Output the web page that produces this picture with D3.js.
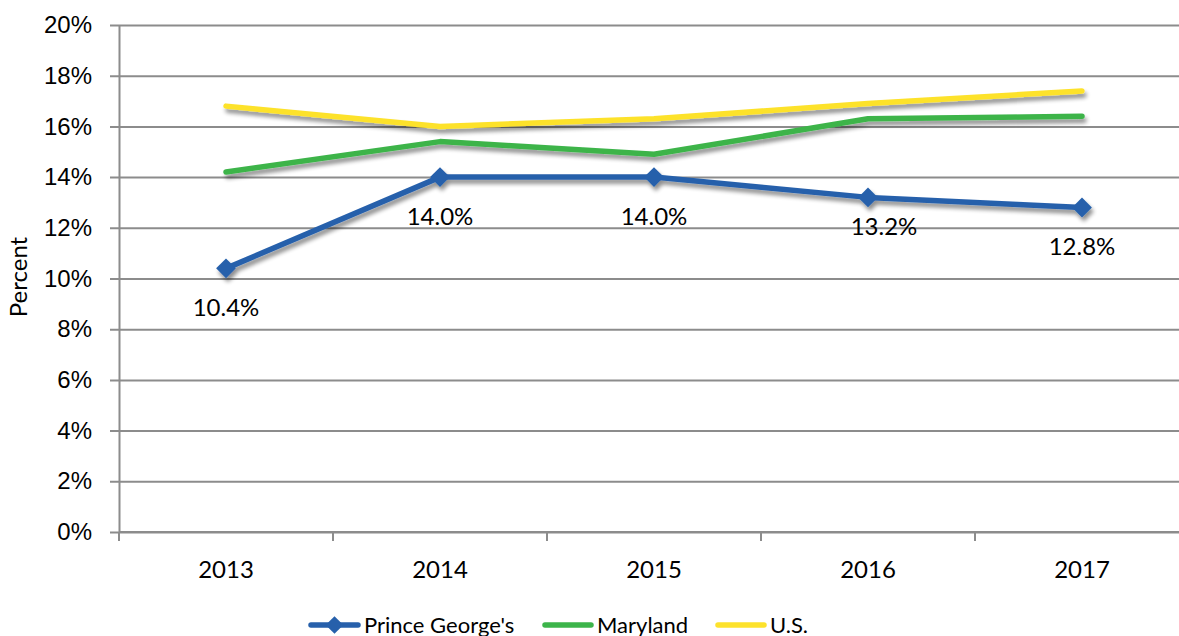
<!DOCTYPE html>
<html>
<head>
<meta charset="utf-8">
<script src="https://cdn.jsdelivr.net/npm/d3@7"></script>
<style>
  html, body { margin: 0; padding: 0; background: #fff; }
  svg { display: block; font-family: Lato, "Open Sans", sans-serif; }
</style>
</head>
<body>
<svg id="chart" width="1179" height="636"></svg>
<script>
// Years shown on the category axis
const years = ["2013", "2014", "2015", "2016", "2017"];
// Percent values per series
const princeGeorges = [10.4, 14.0, 14.0, 13.2, 12.8];
const maryland = [14.2, 15.4, 14.9, 16.3, 16.4];
const us = [16.8, 16.0, 16.3, 16.9, 17.4];
// Value-axis ticks
const yTicks = [0, 2, 4, 6, 8, 10, 12, 14, 16, 18, 20];

const seriesNames = ["Prince George's", "Maryland", "U.S."];
const seriesColors = ["#2760ab", "#3cb44a", "#fde22c"];

// label nudges (dx, dy below the marker) for the Prince George's values
const labelDx = [0, 0, 0, 16, 0];
const labelDy = [48, 48, 48, 38, 47];

const series = [
  { name: seriesNames[0], values: princeGeorges, color: seriesColors[0], markers: true },
  { name: seriesNames[1], values: maryland, color: seriesColors[1] },
  { name: seriesNames[2], values: us, color: seriesColors[2] }
];

const svg = d3.select("#chart");
const plotLeft = 119, plotRight = 1189, plotTop = 25, plotBottom = 532;
const fontSize = 24;

const x = d3.scaleBand().domain(years).range([plotLeft, plotRight]);
const y = d3.scaleLinear().domain([0, 20]).range([plotBottom, plotTop]);
const axisColor = "#8c8c8c";

// drop shadow for the series lines
const defs = svg.append("defs");
const f = defs.append("filter").attr("id", "shadow")
  .attr("x", "-10%").attr("y", "-50%").attr("width", "120%").attr("height", "200%");
f.append("feGaussianBlur").attr("in", "SourceAlpha").attr("stdDeviation", 2.2).attr("result", "b");
f.append("feOffset").attr("in", "b").attr("dx", 2).attr("dy", 4).attr("result", "o");
f.append("feComponentTransfer").attr("in", "o").attr("result", "oa")
  .append("feFuncA").attr("type", "linear").attr("slope", 0.45);
const fm = f.append("feMerge");
fm.append("feMergeNode").attr("in", "oa");
fm.append("feMergeNode").attr("in", "SourceGraphic");

// horizontal gridlines + y axis
const yAxis = d3.axisLeft(y).tickValues(yTicks).tickFormat(d => d + "%")
  .tickSize(-(plotRight - plotLeft)).tickSizeOuter(0).tickPadding(27);
const gy = svg.append("g").attr("transform", `translate(${plotLeft},0)`).call(yAxis);
gy.select(".domain").attr("stroke", axisColor).attr("stroke-width", 2);
gy.selectAll(".tick line").attr("stroke", axisColor).attr("stroke-width", 2)
  .attr("x1", -9);
gy.selectAll(".tick text").attr("font-size", fontSize).attr("fill", "#000");

// x axis with boundary ticks between categories
const gx = svg.append("g").attr("transform", `translate(0,${plotBottom})`);
gx.append("line").attr("x1", plotLeft).attr("x2", plotRight).attr("stroke", axisColor).attr("stroke-width", 2);
const boundaries = years.map(d => x(d)).concat([x(years[years.length - 1]) + x.bandwidth()]);
gx.selectAll(".bt").data(boundaries).join("line")
  .attr("x1", d => d).attr("x2", d => d).attr("y1", 0).attr("y2", 9)
  .attr("stroke", axisColor).attr("stroke-width", 2);
gx.selectAll(".xl").data(years).join("text")
  .attr("x", d => x(d) + x.bandwidth() / 2).attr("y", 46)
  .attr("text-anchor", "middle").attr("font-size", fontSize).attr("fill", "#000")
  .text(d => d);

// y axis title
svg.append("text").attr("transform", "translate(27,277) rotate(-90)")
  .attr("text-anchor", "middle").attr("font-size", fontSize).attr("fill", "#000").text("Percent");

const cx = d => x(d) + x.bandwidth() / 2;
const line = d3.line().x((d, i) => cx(years[i])).y(d => y(d));

// draw back to front: U.S., Maryland, Prince George's
series.slice().reverse().forEach(s => {
  const g = svg.append("g").attr("filter", "url(#shadow)");
  g.append("path").datum(s.values).attr("d", line)
    .attr("fill", "none").attr("stroke", s.color).attr("stroke-width", 5.5)
    .attr("stroke-linecap", "round").attr("stroke-linejoin", "round");
  if (s.markers) {
    g.selectAll("path.m").data(s.values).join("path").attr("class", "m")
      .attr("d", d3.symbol(d3.symbolDiamond2, 250))
      .attr("transform", (d, i) => `translate(${cx(years[i])},${y(d)})`)
      .attr("fill", s.color);
  }
});

// data labels for Prince George's
svg.selectAll(".dl").data(princeGeorges).join("text")
  .attr("x", (d, i) => cx(years[i]) + labelDx[i]).attr("y", (d, i) => y(d) + labelDy[i])
  .attr("text-anchor", "middle").attr("font-size", fontSize).attr("fill", "#000")
  .text(d => d.toFixed(1) + "%");

// legend
const legend = [
  { x: 311, tx: 364 },
  { x: 545, tx: 597 },
  { x: 718, tx: 770 }
];
series.forEach((s, i) => {
  const L = legend[i];
  const g = svg.append("g").attr("transform", `translate(0,625)`);
  g.append("line").attr("x1", L.x).attr("x2", L.tx - 6)
    .attr("stroke", s.color).attr("stroke-width", 5.5).attr("stroke-linecap", "round");
  if (s.markers) {
    g.append("path").attr("d", d3.symbol(d3.symbolDiamond2, 200))
      .attr("transform", `translate(${(L.x + L.tx - 6) / 2},0)`).attr("fill", s.color);
  }
  g.append("text").attr("x", L.tx).attr("y", 8).attr("font-size", 22).attr("fill", "#000").text(s.name);
});
</script>
</body>
</html>
